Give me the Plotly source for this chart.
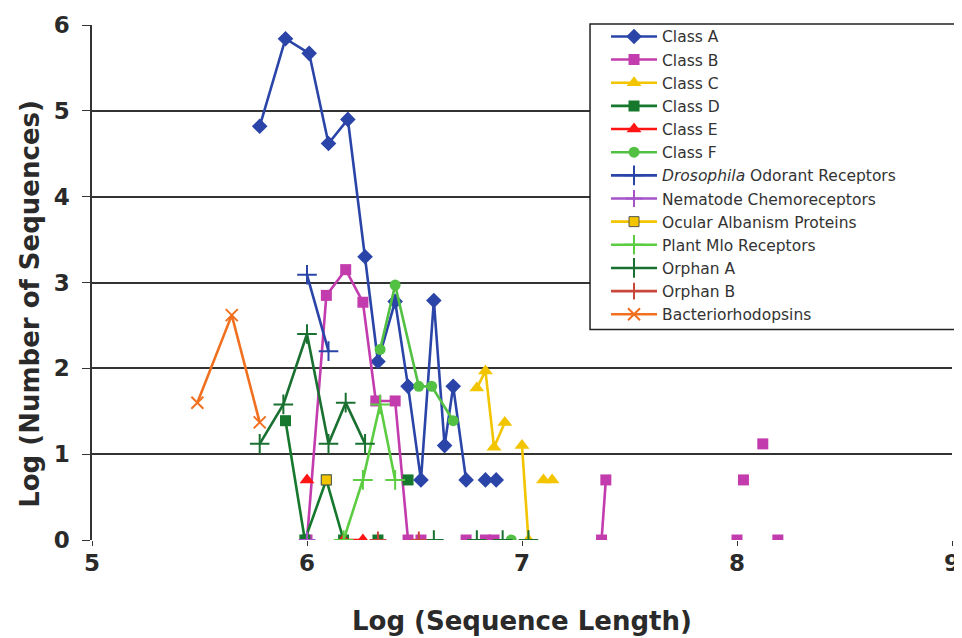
import plotly.graph_objects as go

N = None

class_a_x = [5.78, 5.90, 6.01, 6.10, 6.19, 6.27, 6.33, 6.41, 6.47, 6.53, 6.59, 6.64, 6.68, 6.74, N, 6.83, 6.88]
class_a_y = [4.82, 5.84, 5.67, 4.62, 4.90, 3.30, 2.08, 2.78, 1.79, 0.70, 2.79, 1.10, 1.79, 0.70, N, 0.70, 0.70]

class_b_x = [6.00, 6.09, 6.18, 6.26, 6.32, 6.41, 6.47, 6.53, N, 6.74, N, 6.83, 6.87, N, 7.37, 7.39, N, 8.00, N, 8.03, N, 8.12, N, 8.19]
class_b_y = [0, 2.85, 3.15, 2.77, 1.62, 1.62, 0, 0, N, 0, N, 0, 0, N, 0, 0.70, N, 0, N, 0.70, N, 1.12, N, 0]

class_c_x = [6.79, 6.83, 6.87, 6.92, N, 7.00, 7.03, N, 7.10, N, 7.14]
class_c_y = [1.77, 1.97, 1.08, 1.37, N, 1.10, 0, N, 0.70, N, 0.70]

class_d_x = [5.90, 5.99, 6.09, 6.17, N, 6.33, N, 6.47]
class_d_y = [1.39, 0, 0.70, 0, N, 0, N, 0.70]

class_e_x = [6.00, N, 6.17, 6.26]
class_e_y = [0.70, N, 0, 0]

class_f_x = [6.34, 6.41, 6.52, 6.58, 6.68, N, 6.95]
class_f_y = [2.22, 2.97, 1.79, 1.79, 1.39, N, 0]

droso_x = [6.00, 6.10]
droso_y = [3.09, 2.20]

nema_x = [6.00]
nema_y = [0]

ocular_x = [6.09]
ocular_y = [0.70]

plant_x = [6.17, 6.26, 6.34, 6.41]
plant_y = [0, 0.70, 1.58, 0.70]

orphan_a_x = [5.78, 5.89, 6.00, 6.10, 6.18, 6.27, N, 6.59, N, 6.79, N, 6.91, N, 7.03]
orphan_a_y = [1.12, 1.58, 2.40, 1.12, 1.60, 1.12, N, 0, N, 0, N, 0, N, 0]

orphan_b_x = [6.33, N, 6.52]
orphan_b_y = [0, N, 0]

bacterio_x = [5.49, 5.65, 5.78]
bacterio_y = [1.60, 2.62, 1.37]

x_ticks = [5, 6, 7, 8, 9]
y_ticks = [0, 1, 2, 3, 4, 5, 6]

series = [
    ("Class A", class_a_x, class_a_y, "#2a44a8", "diamond", 12, None),
    ("Class B", class_b_x, class_b_y, "#c23cae", "square", 11, None),
    ("Class C", class_c_x, class_c_y, "#f2c500", "triangle-up", 13, None),
    ("Class D", class_d_x, class_d_y, "#15782c", "square", 11, None),
    ("Class E", class_e_x, class_e_y, "#ff1414", "triangle-up", 13, None),
    ("Class F", class_f_x, class_f_y, "#52c043", "circle", 11, None),
    ("<i>Drosophila</i> Odorant Receptors", droso_x, droso_y, "#2a44a8", "cross-thin", 14, 2),
    ("Nematode Chemoreceptors", nema_x, nema_y, "#a453c8", "cross-thin", 12, 2),
    ("Ocular Albanism Proteins", ocular_x, ocular_y, "#f2c500", "square", 10, None),
    ("Plant Mlo Receptors", plant_x, plant_y, "#5ccc42", "cross-thin", 14, 2),
    ("Orphan A", orphan_a_x, orphan_a_y, "#1a7030", "cross-thin", 14, 2),
    ("Orphan B", orphan_b_x, orphan_b_y, "#c8463c", "cross-thin", 12, 2),
    ("Bacteriorhodopsins", bacterio_x, bacterio_y, "#f07020", "x-thin", 12, 2),
]

fig = go.Figure()
for name, xs, ys, col, sym, size, lw in series:
    marker = dict(symbol=sym, size=size, color=col)
    if lw:
        marker["line"] = dict(color=col, width=lw)
    elif name == "Ocular Albanism Proteins":
        marker["line"] = dict(color="#555555", width=1)
    fig.add_trace(go.Scatter(
        x=xs, y=ys, name=name, mode="lines+markers",
        line=dict(color=col, width=2.6), marker=marker,
        connectgaps=False,
    ))

TXT = "#2a2a2a"
fig.update_layout(
    width=962, height=638,
    margin=dict(l=84, r=18, t=13, b=106),
    paper_bgcolor="white", plot_bgcolor="white",
    font=dict(family="DejaVu Sans", color=TXT),
    showlegend=True,
    legend=dict(
        x=0.5977, y=1.01, xanchor="left", yanchor="top",
        bgcolor="rgba(0,0,0,0)", borderwidth=0, maxheight=600,
        font=dict(size=15.5, color="#333333", family="DejaVu Sans"),
        tracegroupgap=0, itemwidth=46,
    ),
    shapes=[dict(
        type="rect", xref="paper", yref="paper",
        x0=0.5791, x1=1.0035, y0=0.4085, y1=1.0019,
        line=dict(color="#222222", width=1.5), fillcolor="white", layer="above",
    )],
    annotations=[
        dict(text="<b>Log (Sequence Length)</b>", xref="paper", yref="paper",
             x=0.5, y=-0.158, xanchor="center", yanchor="middle", showarrow=False,
             font=dict(size=26, color=TXT, family="DejaVu Sans")),
        dict(text="<b>Log (Number of Sequences)</b>", xref="paper", yref="paper",
             x=-0.0721, y=0.4586, xanchor="center", yanchor="middle", showarrow=False,
             textangle=-90, font=dict(size=26, color=TXT, family="DejaVu Sans")),
    ],
    xaxis=dict(
        range=[5, 9], tickvals=x_ticks, showgrid=False, zeroline=False,
        showline=False, ticks="outside", ticklen=5, tickcolor="#333333",
        automargin=False, ticklabelstandoff=-3,
        tickfont=dict(size=23, family="DejaVu Sans", color=TXT, weight="bold"),
    ),
    yaxis=dict(
        range=[0, 6], tickvals=y_ticks, showgrid=True, gridcolor="#333333", gridwidth=1.8,
        zeroline=False, showline=True, linecolor="#333333", linewidth=1.5,
        ticks="outside", ticklen=8, tickcolor="#333333",
        automargin=False, ticklabelstandoff=8,
        tickfont=dict(size=23, family="DejaVu Sans", color=TXT, weight="bold"),
    ),
)

fig.write_html("out.html")
